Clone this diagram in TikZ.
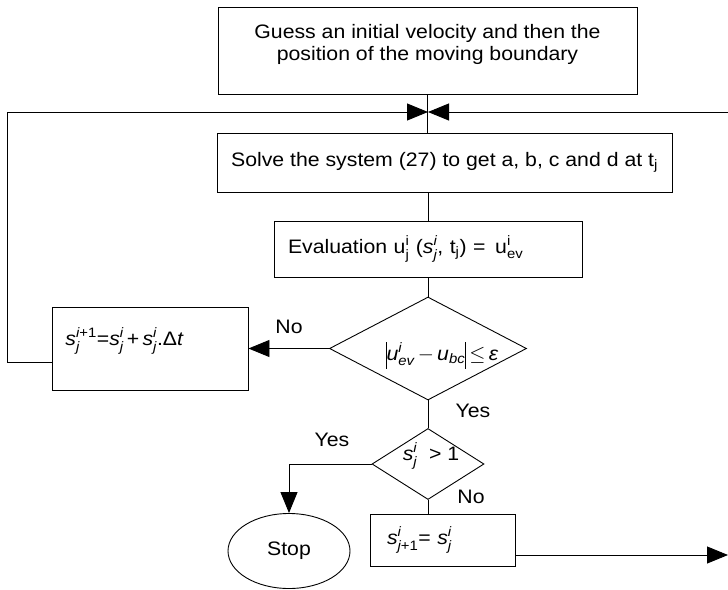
\documentclass[tikz,border=0pt]{standalone}
\usepackage{amsmath}
\usepackage{fontspec}
\setmainfont{Liberation Sans}[FakeStretch=1.09]
\usepackage{tikz}
\usetikzlibrary{shapes.geometric, arrows.meta, positioning}
\tikzset{
    block/.style={rectangle, draw, line width=0.9pt, inner sep=0pt},
    decision/.style={diamond, draw, line width=0.9pt, inner sep=0pt},
    terminal/.style={ellipse, draw, line width=0.9pt, inner sep=0pt},
    arrow/.style={-{Triangle[length=21pt,width=17pt]}},
    labelstyle/.style={font=\fontsize{19.5}{22}\selectfont, inner sep=0pt},
}
\newcommand{\sij}{\ensuremath{\textit{s}^{\textit{i}}_{\textit{j}}}}
\newcommand{\absbar}{\rule[-8pt]{1pt}{27pt}}

\begin{document}
\begin{tikzpicture}[x=1pt, y=-1pt, line width=0.9pt, every node/.style={labelstyle}]
    \useasboundingbox (0,0) rectangle (728,589);
    % boxes
    \node[block, minimum width=419pt, minimum height=87pt] (guess) at (427.5,50.5) {};
    \node[align=center] (guesstxt) at (427.5,44) {Guess an initial velocity and then the\\position of the moving boundary};
    \node[block, minimum width=455pt, minimum height=59pt] (solve) at (444.5,162.5) {Solve the system (27) to get a, b, c and d at t$_{\textrm{j}}$};
    \node[block, minimum height=56pt, text width=280pt, inner xsep=14pt, align=left] (eval) at (428,249)
        {Evaluation u$^{\textrm{i}}_{\textrm{j}}$ (\sij, t$_{\textrm{j}}$) =\, u$^{\textrm{i}}_{\textrm{ev}}$};
    \node[decision, minimum width=197pt, minimum height=103pt] (d1) at (428,348.5) {};
    \node (d1txt) at (442,355) {\absbar$\textit{u}^{\textit{i}}_{\textit{ev}}$\,$-$\,\textit{u}$_{\textit{bc}}$\absbar\,$\leq$\,\textit{ε}};
    \node[block, minimum width=196pt, minimum height=83pt] (upd) at (150,348.5) {};
    \node[anchor=west] (updtxt) at (65,341) {$\textit{s}^{\textit{i}\textrm{+1}}_{\textit{j}}$=\sij\,+\,\sij.Δ\textit{t}};
    \node[decision, minimum width=112pt, minimum height=71pt] (d2) at (428,464) {};
    \node (d2txt) at (431,456) {\sij\ \ > 1};
    \node[terminal, minimum width=122pt, minimum height=75pt] (stop) at (289,551) {Stop};
    \node[block, minimum height=52pt, text width=111pt, inner xsep=17pt, align=left] (next) at (442.5,540)
        {$\textit{s}^{\textit{i}}_{\textit{j}\textrm{+1}}$= \sij};
    % labels
    \node (lno1) at (289,327) {No};
    \node (lyes1) at (473,411) {Yes};
    \node (lyes2) at (332,440) {Yes};
    \node (lno2) at (471,497) {No};
    \coordinate (junc) at (428,112);
    \coordinate (rin) at (728,112);
    \coordinate (rout) at (728,555);
    % connectors
    \draw (guess) -- (solve.north -| guess);
    \draw (solve.south -| eval) -- (eval);
    \draw (eval) -- (d1);
    \draw (d1) -- (d2);
    \draw (d2) -- (d2 |- next.north);
    \draw[arrow] (d1) -- (upd);
    \draw[arrow] ([yshift=-14pt]upd.west) -- ++(-44pt,0) |- (junc);
    \draw[arrow] (rin) -- (junc);
    \draw[arrow] (d2.west) -| (stop.north);
    \draw[arrow] (next.east |- rout) -- (rout);
\end{tikzpicture}
\end{document}
